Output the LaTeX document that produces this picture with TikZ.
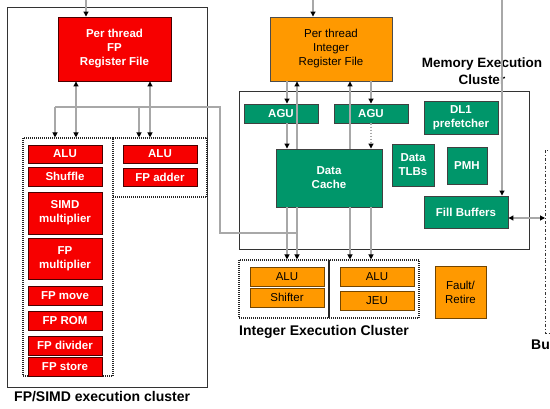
\documentclass[tikz,border=0pt]{standalone}
\usepackage{fontspec}
\setmainfont{Liberation Sans}
\usetikzlibrary{arrows.meta}
\definecolor{fpred}{HTML}{F70000}
\definecolor{intor}{HTML}{FF9900}
\definecolor{memgr}{HTML}{00966A}
\definecolor{lgray}{HTML}{A8A8A8}
\begin{document}
\begin{tikzpicture}[x=1pt,y=-1pt,
  bx/.style={draw=black!75, line width=0.9pt, inner sep=0pt, align=center,
    font=\fontsize{11.5}{14}\selectfont\bfseries, text=white},
  rbox/.style={bx, fill=fpred, draw=black!70!fpred},
  gbox/.style={bx, fill=memgr},
  obox/.style={bx, fill=intor, text=black, font=\fontsize{11.5}{14}\selectfont, draw=black!55!intor},
  cluster/.style={draw=black!80, line width=0.9pt, inner sep=0pt},
  dbox/.style={draw=black!85, line width=1.1pt, dash pattern=on 1pt off 1pt, inner sep=0pt},
  ln/.style={draw=lgray, line width=1.1pt},
  arr/.style={ln, -{Triangle[length=5pt,width=5pt,color=black]}},
  darr/.style={ln, {Triangle[length=5pt,width=5pt,color=black]}-{Triangle[length=5pt,width=5pt,color=black]}},
  lbl/.style={font=\fontsize{14}{16}\selectfont\bfseries, inner sep=0pt}
]
\fill[white] (0,0) rectangle (550,409);
\clip (0,0) rectangle (550,409);

% ---------------- FP/SIMD cluster ----------------
\node[cluster, minimum width=200pt, minimum height=380pt] (fpc) at (107,197) {};
\node[rbox, minimum width=113pt, minimum height=64pt] (fpreg) at (114.5,49) {Per thread\\FP\\Register File};
\node[dbox, minimum width=90pt, minimum height=238pt] (fpl) at (68,257) {};
\node[dbox, minimum width=94pt, minimum height=59pt] (fpr) at (160,167.5) {};

\node[rbox, minimum width=74pt, minimum height=18pt] (falu1) at (65,154) {ALU};
\node[rbox, minimum width=74pt, minimum height=19pt] (shuf) at (65,176.5) {Shuffle};
\node[rbox, minimum width=74pt, minimum height=42pt] (simd) at (65,213) {SIMD\\multiplier};
\node[rbox, minimum width=74pt, minimum height=41pt] (fpmul) at (65,258.5) {FP\\multiplier};
\node[rbox, minimum width=74pt, minimum height=19pt] (fpmove) at (65,295.5) {FP move};
\node[rbox, minimum width=74pt, minimum height=19pt] (fprom) at (65,320.5) {FP ROM};
\node[rbox, minimum width=74pt, minimum height=19pt] (fpdiv) at (65,345.5) {FP divider};
\node[rbox, minimum width=74pt, minimum height=19pt] (fpst) at (65,366.5) {FP store};
\node[rbox, minimum width=74pt, minimum height=18pt] (falu2) at (160,154) {ALU};
\node[rbox, minimum width=74pt, minimum height=18pt] (fpadd) at (160,177) {FP adder};

\node[lbl, anchor=west] (fplbl) at (14,397) {FP/SIMD execution cluster};

% ---------------- Integer register file ----------------
\node[obox, minimum width=122pt, minimum height=64pt, draw=black!70] (intreg) at (331,49) {Per thread\\Integer\\Register File};

% ---------------- Memory execution cluster ----------------
\node[cluster, minimum width=290pt, minimum height=158pt] (memc) at (384,170) {};
\node[lbl, font=\fontsize{13.5}{16.5}\selectfont\bfseries, align=center] (memlbl) at (482,71) {Memory Execution\\Cluster};
\node[gbox, minimum width=74pt, minimum height=19pt] (agu1) at (281,113.5) {AGU};
\node[gbox, minimum width=74pt, minimum height=19pt] (agu2) at (371,113.5) {AGU};
\node[gbox, minimum width=74pt, minimum height=33pt] (dl1) at (461,117.5) {DL1\\prefetcher};
\node[gbox, minimum width=42pt, minimum height=42pt] (tlb) at (413,165) {Data\\TLBs};
\node[gbox, minimum width=40pt, minimum height=37pt] (pmh) at (467,165.5) {PMH};
\node[gbox, minimum width=106pt, minimum height=58pt] (dcache) at (329,178) {Data\\Cache};
\node[gbox, minimum width=84pt, minimum height=32pt] (fill) at (466,212) {Fill Buffers};

% ---------------- Integer execution cluster ----------------
\node[dbox, minimum width=90pt, minimum height=58pt] (intl) at (284,289) {};
\node[dbox, minimum width=90pt, minimum height=58pt] (intr) at (374,289) {};
\node[obox, minimum width=74pt, minimum height=19pt] (ialu1) at (287,276.5) {ALU};
\node[obox, minimum width=74pt, minimum height=19pt] (shift) at (287,297.5) {Shifter};
\node[obox, minimum width=74pt, minimum height=19pt] (ialu2) at (377,276.5) {ALU};
\node[obox, minimum width=74pt, minimum height=19pt] (jeu) at (377,300.5) {JEU};
\node[obox, minimum width=51pt, minimum height=52pt] (fault) at (460.5,292) {Fault/\\Retire};
\node[lbl, anchor=west] (intlbl) at (239,332) {Integer Execution Cluster};

% ---------------- Bus cluster (cut off) ----------------
\draw[black!80, line width=0.9pt, dash dot] (553,150) -- (545,150) -- (545,333) -- (553,333);
\coordinate (bus) at (545,218);
\node[lbl, anchor=west] (bulbl) at (531,345) {Bu};

% ---------------- connectors ----------------
\coordinate (t1) at (86,0);
\coordinate (t2) at (313,0);
\coordinate (t3) at (502,0);
\draw[arr] (t1) -- (fpreg.north -| t1);
\draw[arr] (t2) -- (intreg.north -| t2);
\draw[arr] (t3) -- (fill.north -| t3);

\coordinate (d1) at (76,0);
\coordinate (d2) at (150,0);
\draw[darr] (fpreg.south -| d1) -- (fpl.north -| d1);
\draw[darr] (fpreg.south -| d2) -- (fpr.north -| d2);

\coordinate (g1) at (55,107);
\coordinate (g2) at (139,107);
\coordinate (g3) at (220,107);
\coordinate (g4) at (220,233);
\coordinate (jn) at (297,233);
\draw[ln] (jn) -- (g4) -- (g3) -- (g1);
\draw[arr] (g1) -- (g1 |- fpl.north);
\draw[arr] (g2) -- (g2 |- fpr.north);

\coordinate (c1) at (287,0);
\coordinate (c2) at (297,0);
\coordinate (c3) at (350,0);
\coordinate (c4) at (371,0);
\draw[arr] (intreg.south -| c1) -- (agu1.north -| c1);
\draw[arr] (agu1.south -| c1) -- (dcache.north -| c1);
\draw[arr] (dcache.north -| c2) -- (intreg.south -| c2);
\draw[arr] (dcache.north -| c3) -- (intreg.south -| c3);
\draw[arr] (intreg.south -| c4) -- (agu2.north -| c4);
\draw[arr, dotted] (agu2.south -| c4) -- (dcache.north -| c4);
\draw[arr] (dcache.south -| c1) -- (intl.north -| c1);
\draw[arr] (dcache.south -| c2) -- (intl.north -| c2);
\draw[arr] (dcache.south -| c3) -- (intr.north -| c3);
\draw[arr] (dcache.south -| c4) -- (intr.north -| c4);

\draw[darr] (fill.east |- bus) -- (bus);
\end{tikzpicture}
\end{document}
